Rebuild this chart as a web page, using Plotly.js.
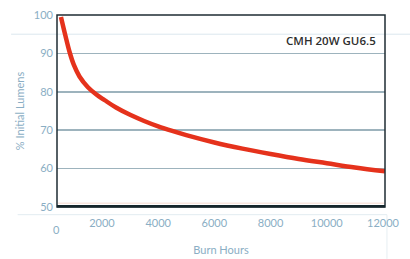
<!DOCTYPE html>
<html><head><meta charset="utf-8">
<script src="https://cdn.plot.ly/plotly-3.0.1.min.js"></script>
<style>html,body{margin:0;padding:0;background:#fff;}#chart{width:410px;height:259px;}</style>
</head><body><div id="chart"></div>
<script>
const burnHours = [541, 700, 850, 1000, 1200, 1500, 1800, 2100, 2500, 3000, 3500, 4000, 4500, 5000, 6000, 7000, 8000, 9000, 10000, 11000, 12071];
const lumensPct = [99.5, 94.6, 90.3, 87.0, 84.0, 81.2, 79.3, 77.8, 75.9, 74.0, 72.4, 71.0, 69.8, 68.7, 66.8, 65.2, 63.8, 62.5, 61.4, 60.3, 59.3];
const xTicks = [2000, 4000, 6000, 8000, 10000, 12000];
const yTicks = [50, 60, 70, 80, 90, 100];
const seriesLabel = "CMH 20W GU6.5";

const labelColor = "#8aaec4";
const font = {family: "Lato, 'Open Sans', sans-serif", size: 11, color: labelColor};

const shapes = [];
// faint scan-background lines
shapes.push({type:"line", xref:"paper", yref:"y", x0:-0.14, x1:1.08, y0:95, y1:95, line:{color:"#dbe7ee", width:1}, layer:"below"});
shapes.push({type:"line", xref:"paper", yref:"paper", x0:-0.12, x1:1.006, y0:-0.04, y1:-0.04, line:{color:"#e3ecf1", width:1}, layer:"below"});
shapes.push({type:"line", xref:"paper", yref:"paper", x0:1.006, x1:1.006, y0:-0.04, y1:-0.27, line:{color:"#e6eef2", width:1}, layer:"below"});
// frame
shapes.push({type:"rect", xref:"paper", yref:"paper", x0:0, x1:1, y0:0, y1:1, line:{color:"#1f2d33", width:1.5}, layer:"above"});
shapes.push({type:"line", xref:"paper", yref:"paper", x0:0, x1:1, y0:0.004, y1:0.004, line:{color:"#16262c", width:2.5}, layer:"above"});
shapes.push({type:"line", xref:"paper", yref:"paper", x0:0.003, x1:0.997, y0:0.02, y1:0.02, line:{color:"#f6d9cf", width:1}, layer:"below"});

const data = [{
  x: burnHours, y: lumensPct, type: "scatter", mode: "lines",
  line: {color: "#e5321c", width: 4.5, shape: "spline", smoothing: 1},
  hoverinfo: "skip", showlegend: false
}];

const layout = {
  width: 410, height: 259,
  margin: {l: 57, r: 25, t: 15, b: 52},
  paper_bgcolor: "#ffffff", plot_bgcolor: "#ffffff",
  showlegend: false,
  xaxis: {
    range: [400, 12071], tickvals: xTicks, tickformat: "d", showgrid: false, zeroline: false,
    showline: false, ticks: "", tickfont: font, ticklabelstandoff: 8,
    title: {text: "Burn Hours", font: font, standoff: 18}
  },
  yaxis: {
    range: [50, 100], tickvals: yTicks, showgrid: true, gridcolor: "#9db3bd", gridwidth: 1.5,
    zeroline: false, showline: false, ticks: "", tickfont: font, ticklabelstandoff: 3,
    title: {text: "% Initial Lumens", font: {family: font.family, size: 11, color: labelColor}, standoff: 7}
  },
  shapes: shapes,
  annotations: [
    {text: seriesLabel, xref: "paper", yref: "paper", x: 0.98, y: 0.865, xanchor: "right", yanchor: "middle",
     showarrow: false, font: {family: "'Open Sans', sans-serif", size: 11.5, color: "#2e2e2e", weight: 600}},
    {text: "0", xref: "paper", yref: "paper", x: -0.003, y: -0.075, xanchor: "center", yanchor: "top",
     showarrow: false, font: font}
  ]
};
Plotly.newPlot("chart", data, layout, {displayModeBar: false, staticPlot: true});
</script></body></html>
